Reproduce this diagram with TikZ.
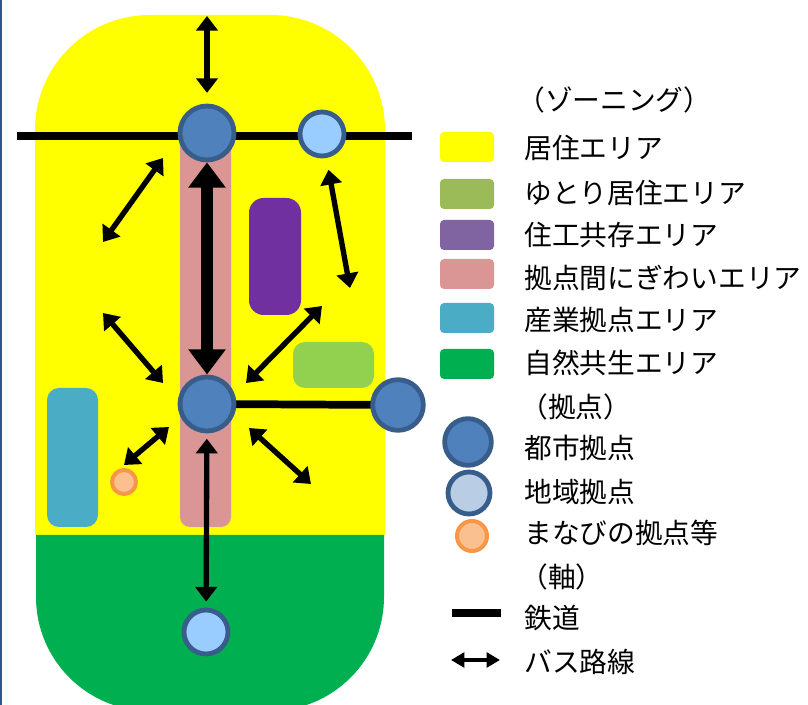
\documentclass[tikz,border=0pt]{standalone}
\usepackage{fontspec}
\setmainfont{Noto Sans CJK JP}
\usetikzlibrary{arrows.meta}

\definecolor{resid}{HTML}{FFFF00}
\definecolor{nature}{HTML}{00B050}
\definecolor{plaza}{HTML}{D99694}
\definecolor{mixed}{HTML}{7030A0}
\definecolor{roomy}{HTML}{92D050}
\definecolor{industry}{HTML}{4BACC6}
\definecolor{roomykey}{HTML}{9BBB59}
\definecolor{mixedkey}{HTML}{8064A2}
\definecolor{cityfill}{HTML}{4F81BD}
\definecolor{cityline}{HTML}{385D8A}
\definecolor{regfill}{HTML}{99CCFF}
\definecolor{regkey}{HTML}{B9CDE5}
\definecolor{learnfill}{HTML}{FAC090}
\definecolor{learnline}{HTML}{F79646}
\definecolor{edge}{HTML}{2F5597}

\begin{document}
\begin{tikzpicture}[x=0.75pt,y=0.75pt,yscale=-1,xscale=1,
  city/.style={circle, draw=cityline, fill=cityfill, line width=3.6pt, inner sep=0, minimum size=40.5pt},
  regional/.style={circle, draw=cityline, fill=regfill, line width=3.6pt, inner sep=0, minimum size=33pt},
  learn/.style={circle, draw=learnline, fill=learnfill, line width=3pt, inner sep=0, minimum size=18pt},
  rail/.style={line width=5.8pt},
  bus/.style={{Triangle[width=16pt,length=11pt]}-{Triangle[width=16pt,length=11pt]}, line width=4pt},
  trunk/.style={{Triangle[width=27pt,length=19pt]}-{Triangle[width=27pt,length=19pt]}, line width=9pt},
  swatch/.style={rounded corners=3pt},
  label/.style={anchor=west, inner sep=0, font=\fontsize{20.8pt}{24pt}\selectfont}]
\useasboundingbox (0,0) rectangle (808,705);

%Left edge
\draw [edge, line width=1.5pt] (1,0) -- (1,705) ;

%Zoning areas
\fill [resid] (35,535) -- (35,130) arc [start angle=180, end angle=270, radius=115]
  -- (270,15) arc [start angle=270, end angle=360, radius=115] -- (385,535) -- cycle ;
\fill [nature] (36,535) -- (384,535) -- (384,597) arc [start angle=0, end angle=90, radius=114]
  -- (150,711) arc [start angle=90, end angle=180, radius=114] -- cycle ;
\fill [plaza, rounded corners=7.5pt] (180,133) rectangle (231,527) ;
\fill [mixed, rounded corners=11pt] (249,198) rectangle (301,315) ;
\fill [roomy, rounded corners=9pt] (293,342) rectangle (374,388) ;
\fill [industry, rounded corners=9pt] (47,388) rectangle (98,527) ;

%Free ends
\coordinate (railW) at (17,136) ;
\coordinate (railE) at (412,136) ;
\coordinate (n1) at (207,16) ;
\coordinate (nw1) at (103,242) ;
\coordinate (nw2) at (163,158) ;
\coordinate (ne1) at (350,288) ;
\coordinate (w1) at (103,313) ;
\coordinate (w2) at (163,383) ;
\coordinate (e1) at (322,306) ;
\coordinate (e2) at (246,383) ;
\coordinate (sw1) at (169,427) ;
\coordinate (sw2) at (124,465) ;
\coordinate (se1) at (249,428) ;
\coordinate (se2) at (311,484) ;

%Railway
\draw [rail] (railW) -- (railE) ;
\draw [rail] (207,404) -- (398,405) ;

%Nodes
\node [city] (cityT) at (207,133) {} ;
\node [regional] (regT) at (322,134) {} ;
\node [city] (cityM) at (207,404) {} ;
\node [city, minimum size=38pt] (cityR) at (398,405) {} ;
\node [regional] (regB) at (206,632) {} ;
\node [learn] (learnW) at (124,482) {} ;

%Bus routes
\draw [bus, shorten >=8pt] (n1) -- (cityT) ;
\draw [trunk] (cityT) -- (cityM) ;
\draw [bus, shorten <=4pt, shorten >=4.5pt] (cityM) -- (regB) ;
\draw [bus] (nw1) -- (nw2) ;
\draw [bus, shorten <=9pt] (regT) -- (ne1) ;
\draw [bus] (w1) -- (w2) ;
\draw [bus] (e1) -- (e2) ;
\draw [bus] (sw1) -- (sw2) ;
\draw [bus] (se1) -- (se2) ;

%Legend: zoning
\node [label] (zoning) at (517,100) {（ゾーニング）} ;
\fill [resid, swatch] (440,132) rectangle (494,162) ;
\node [label] (kResid) at (524,148) {居住エリア} ;
\fill [roomykey, swatch] (440,179) rectangle (494,209) ;
\node [label] (kRoomy) at (524,193) {ゆとり居住エリア} ;
\fill [mixedkey, swatch] (440,220) rectangle (494,250) ;
\node [label] (kMixed) at (524,235) {住工共存エリア} ;
\fill [plaza, swatch] (440,259) rectangle (494,289) ;
\node [label] (kPlaza) at (524,278) {拠点間にぎわいエリア} ;
\fill [industry, swatch] (440,303) rectangle (494,333) ;
\node [label] (kIndustry) at (524,320) {産業拠点エリア} ;
\fill [nature, swatch] (440,349) rectangle (494,379) ;
\node [label] (kNature) at (524,363) {自然共生エリア} ;

%Legend: hubs
\node [label] (hubs) at (520,407) {（拠点）} ;
\node [city, minimum size=35pt] (kCityDot) at (468,442) {} ;
\node [label] (kCity) at (524,448) {都市拠点} ;
\node [regional, fill=regkey, minimum size=31.5pt] (kRegDot) at (469,493) {} ;
\node [label] (kReg) at (524,492) {地域拠点} ;
\node [learn, minimum size=22.5pt] (kLearnDot) at (472,536) {} ;
\node [label] (kLearn) at (524,533) {まなびの拠点等} ;

%Legend: axes
\node [label] (axes) at (520,577) {（軸）} ;
\coordinate (kRailW) at (452,613) ;
\coordinate (kRailE) at (501,613) ;
\draw [rail, line width=6pt] (kRailW) -- (kRailE) ;
\node [label] (kRail) at (524,618) {鉄道} ;
\coordinate (kBusW) at (451,660) ;
\coordinate (kBusE) at (500,660) ;
\draw [{Triangle[width=11pt,length=10pt]}-{Triangle[width=11pt,length=10pt]}, line width=3pt] (kBusW) -- (kBusE) ;
\node [label] (kBus) at (524,662) {バス路線} ;

\end{tikzpicture}
\end{document}
